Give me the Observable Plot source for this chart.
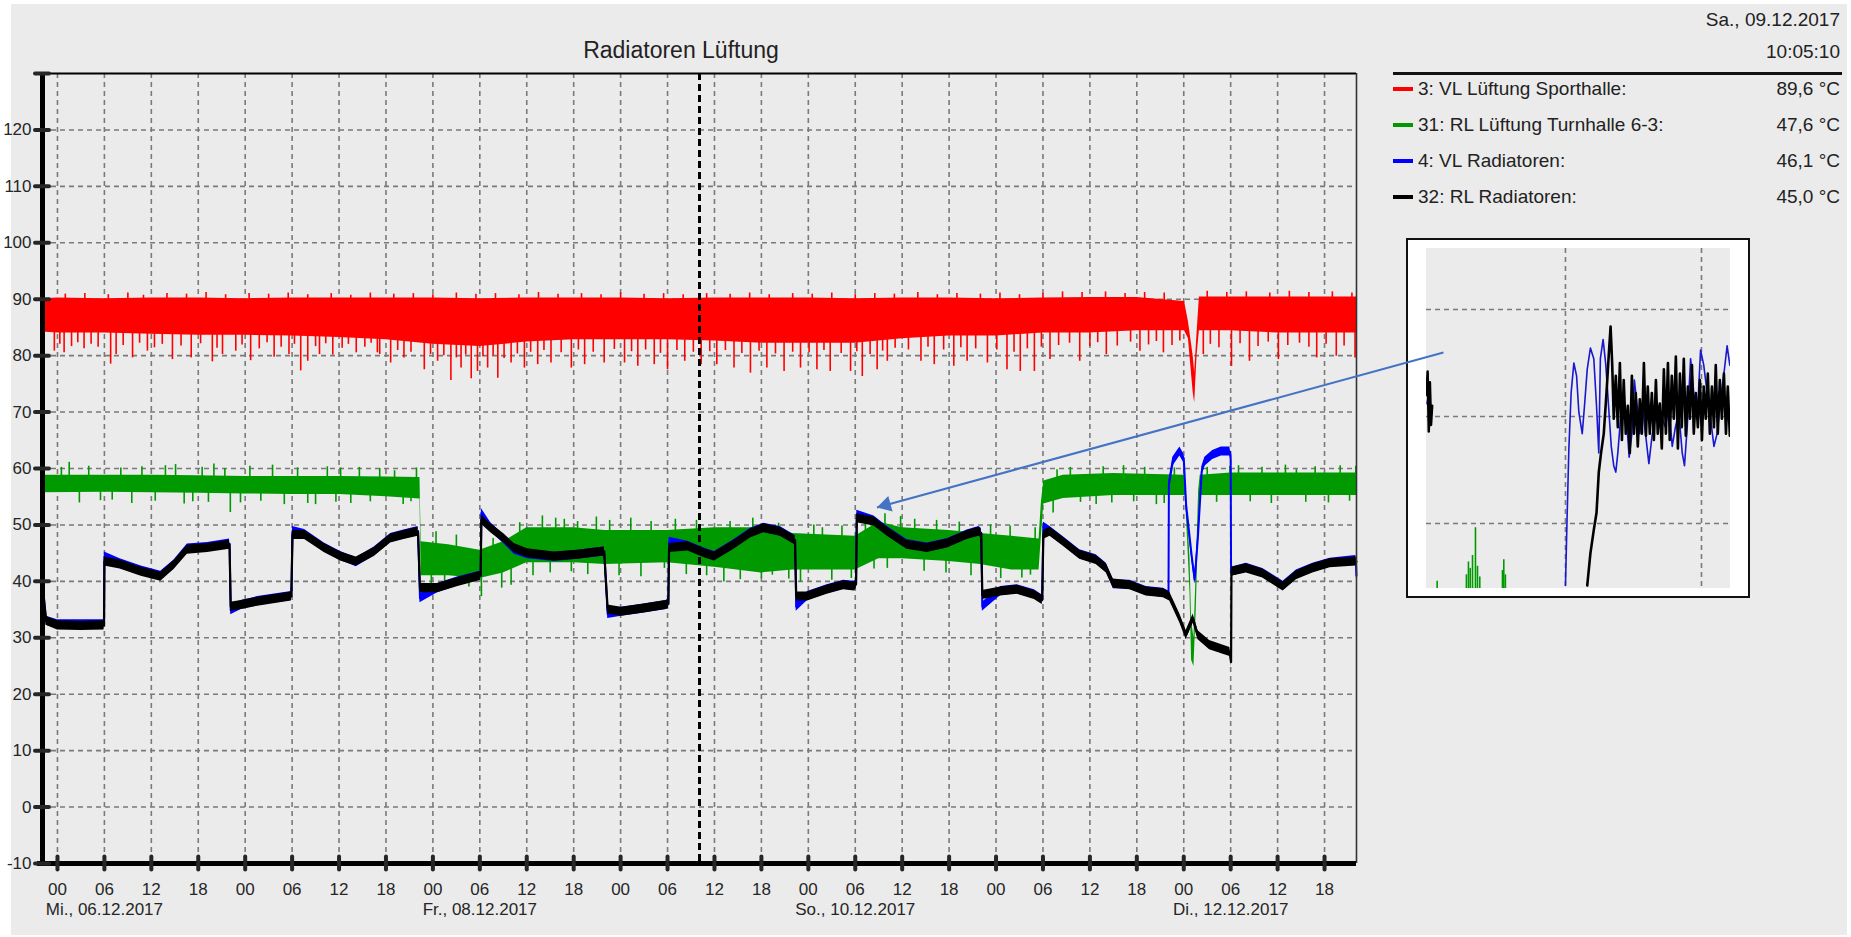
<!DOCTYPE html>
<html lang="de">
<head>
<meta charset="utf-8">
<script src="https://cdn.jsdelivr.net/npm/d3@7"></script>
<script src="https://cdn.jsdelivr.net/npm/@observablehq/plot@0.6"></script>
<style>
  html, body { margin:0; padding:0; background:#ffffff; }
  body { width:1851px; height:937px; overflow:hidden; position:relative; }
  #panel { position:absolute; left:11px; top:4px; width:1836px; height:931px; background:#ebebeb; overflow:visible; }
  #stage { position:absolute; left:-11px; top:-4px; width:1851px; height:937px;
           font-family:"Liberation Sans", Arial, sans-serif; color:#222; }
  .abs { position:absolute; white-space:nowrap; }
  #title { left:481px; top:37px; width:400px; text-align:center; font-size:23px; line-height:26px; }
  .hdr { right:11px; font-size:19px; line-height:20px; text-align:right; }
  #hdrLine { left:1393px; top:72px; width:449px; height:3px; background:#111; }
  .lgLabel { left:1418px; font-size:19px; line-height:20px; }
  .lgValue { right:11px; font-size:19px; line-height:20px; text-align:right; }
  .lgSwatch { left:1393px; width:20px; height:4px; }
  #insetBox { left:1406px; top:238px; width:344px; height:360px; border:2px solid #111; box-sizing:border-box; background:#fff; }
  #insetPlot { left:1426px; top:248px; width:304px; height:340px; }
  #chart { left:0; top:0; }
</style>
</head>
<body>
<div id="panel"><div id="stage">
  <div id="title" class="abs">Radiatoren Lüftung</div>
  <div id="hdrDate" class="abs hdr" style="top:10px"></div>
  <div id="hdrTime" class="abs hdr" style="top:42px"></div>
  <div id="hdrLine" class="abs"></div>
  <div id="legend"></div>
  <div id="insetBox" class="abs"></div>
  <div id="insetPlot" class="abs"></div>
  <div id="chart" class="abs"></div>
</div></div>
<script>
// ---------------- data (hours after Mi., 06.12.2017 00:00) ----------------
const seriesNames  = ["3: VL Lüftung Sporthalle:", "31: RL Lüftung Turnhalle 6-3:", "4: VL Radiatoren:", "32: RL Radiatoren:"];
const seriesValues = ["89,6 °C", "47,6 °C", "46,1 °C", "45,0 °C"];
const cursorDateText = "Sa., 09.12.2017";
const cursorTimeText = "10:05:10";
const title = "Radiatoren Lüftung";

const viewStartHour = -1.9139;   // Di., 05.12.2017 22:05:10
const viewEndHour   = 166.0861;  // Di., 12.12.2017 22:05:10
const cursorHour    = 82.0861;   // Sa., 09.12.2017 10:05:10

const tickHours = [0,6,12,18,24,30,36,42,48,54,60,66,72,78,84,90,96,102,108,114,120,126,132,138,144,150,156,162];
const dateLabelHours = [6, 54, 102, 150];
const dateLabels = ["Mi., 06.12.2017", "Fr., 08.12.2017", "So., 10.12.2017", "Di., 12.12.2017"];
const yLabelValues = [-10,0,10,20,30,40,50,60,70,80,90,100,110,120];
const yStubValues  = [-10,0,10,20,30,40,50,60,70,80,90,100,110,120,130];
const yGridValues  = [0,10,20,30,40,50,60,70,80,90,100,110,120];
const yDomain = [-10, 130];

// 3: VL Lüftung Sporthalle — dense core band [hour, low, high]
const redBand = [
  [-1.91,84.2,90.1],[0,84.0,90.2],[6,84.0,90.1],[12,83.8,90.2],[18,83.6,90.2],[24,83.6,90.1],
  [30,83.5,90.2],[36,83.2,90.2],[42,82.8,90.2],[48,82.0,90.2],[54,81.6,90.1],[60,82.4,90.2],
  [66,82.8,90.2],[72,82.8,90.2],[78,82.8,90.1],[84,82.6,90.2],[90,82.2,90.2],[96,82.2,90.2],
  [102,82.2,90.1],[108,83.0,90.2],[114,83.5,90.2],[120,83.5,90.1],[126,84.0,90.2],[132,84.0,90.3],
  [138,84.4,90.3],[144.1,84.4,89.6],[144.6,83.0,86.0],[145.2,73.5,80.0],[145.4,71.6,77.0],
  [145.7,80.0,84.0],[146.0,84.4,90.4],[150,84.4,90.4],[156,84.0,90.4],[162,84.0,90.4],[166.09,84.0,90.4]
];
// spikes out of the band [hour, value]
const redSpikes = [
  // deep dips
  [-0.4,80.8],[0.85,80.5],[6.8,78.5],[7.5,80.2],[9.6,79.6],[11.5,80.8],[14.7,79.3],[17.1,79.6],
  [19.8,78.9],[21.1,80.2],[22.8,80.8],[24.7,79.1],[27.7,79.7],[29.6,80.2],[31.1,77.3],[32.0,79.0],
  [33.5,80.2],[35.2,80.1],[38.2,80.5],[41.2,80.2],[40.9,80.5],[42.6,78.7],[44.3,79.6],[46.9,77.5],
  [48.6,79.0],[50.3,75.6],[51.6,77.8],[52.9,75.9],[53.7,77.2],[55.0,77.8],[56.3,76.0],[58.0,78.7],
  [59.7,77.8],[61.4,78.4],[63.1,78.7],[65.7,77.8],[67.4,78.4],[69.9,78.7],[72.5,78.7],[74.2,78.1],
  [76.3,78.4],[78.0,77.5],[80.2,79.0],[82.3,78.4],[84.3,78.4],[86.5,77.8],[88.6,76.9],[90.7,77.8],
  [92.9,77.2],[95.0,77.8],[97.1,77.5],[98.8,77.2],[101.4,77.2],[102.9,76.3],[104.8,77.5],[106.1,79.0],
  [110.4,79.0],[112.1,78.4],[114.6,78.1],[116.3,79.0],[118.9,78.7],[121.4,77.5],[123.1,77.2],
  [124.9,77.2],[126.9,79.3],[130.7,79.0],[134.1,80.2],[138.4,80.8],[141.4,80.5],[146.5,80.2],
  [150.1,78.1],[152.4,79.0],[156.1,79.3],[161.0,79.6],[163.5,79.9],[165.9,79.6],
  // shallower dips along the lower edge
  [0.3,82.0],[1.8,81.6],[2.6,82.3],[3.4,81.2],[4.3,82.0],[5.2,81.5],[8.4,81.8],[10.5,82.2],[12.4,81.4],
  [13.4,82.0],[15.8,81.7],[18.3,82.1],[20.4,81.3],[23.6,81.9],[25.8,81.2],[26.8,82.3],[28.6,81.5],
  [30.3,82.0],[33.0,81.6],[34.3,82.1],[36.4,81.3],[37.2,82.0],[39.3,81.5],[40.1,82.2],[43.5,80.9],
  [45.2,80.6],[47.7,80.2],[49.4,80.0],[51.0,79.6],[52.2,80.1],[54.4,79.8],[55.7,80.0],[57.1,79.5],
  [58.8,80.3],[60.5,80.6],[62.2,80.9],[64.4,80.5],[66.6,81.0],[68.5,80.6],[71.2,81.1],[73.4,80.7],
  [75.2,81.0],[77.1,80.4],[79.2,80.9],[81.3,80.6],[83.4,80.7],[85.4,80.9],[87.5,80.4],[89.7,80.8],
  [91.8,80.3],[94.0,80.6],[96.1,80.5],[98.0,80.9],[100.2,80.4],[102.2,80.7],[103.9,80.2],[105.5,80.8],
  [107.1,81.3],[108.8,81.0],[111.3,81.5],[113.3,81.0],[115.5,81.4],[117.4,81.2],[120.1,81.0],[122.3,80.6],
  [124.0,81.2],[125.8,81.5],[128.0,81.8],[129.4,82.2],[132.0,81.6],[133.0,82.3],[135.5,81.7],[137.2,82.4],
  [139.5,81.9],[140.5,82.5],[142.5,81.8],[143.5,82.6],[147.4,82.0],[148.5,81.4],[151.2,82.1],[153.5,81.6],
  [154.8,82.4],[157.3,81.8],[158.8,82.2],[160.0,81.5],[162.2,82.0],[164.5,81.7],
  // small peaks along the upper edge
  [1.0,90.9],[3.5,91.0],[6.5,90.8],[9.0,91.1],[11.0,90.7],[14.0,91.0],[16.5,90.9],[19.0,91.2],[21.5,90.8],
  [24.5,91.0],[27.0,90.9],[29.5,91.1],[32.0,90.8],[35.0,91.0],[37.5,90.7],[40.0,91.1],[43.0,90.9],
  [45.5,91.0],[48.0,90.8],[51.0,91.1],[53.5,90.9],[56.0,91.0],[59.0,90.8],[61.5,91.2],[64.0,90.9],
  [67.0,91.0],[69.5,90.8],[72.0,91.1],[75.0,90.9],[77.5,91.0],[80.0,90.8],[83.0,91.0],[86.0,90.9],
  [88.5,91.1],[91.0,90.8],[94.0,91.0],[96.5,90.9],[99.0,91.1],[102.0,90.8],[104.5,91.0],[107.0,90.9],
  [110.0,91.2],[112.5,90.8],[115.0,91.0],[118.0,90.9],[120.5,91.1],[123.0,90.8],[126.0,91.0],[128.5,91.3],
  [131.0,91.2],[134.0,91.3],[136.5,91.0],[139.0,91.2],[141.5,91.1],[147.0,91.4],[149.5,91.2],[152.0,91.3],
  [155.0,91.1],[157.5,91.4],[160.0,91.2],[163.0,91.3],[165.5,91.1]
];

// 31: RL Lüftung Turnhalle 6-3 — dense core band [hour, low, high]
const greenBand = [
  [-1.91,55.7,58.8],[6,55.8,58.8],[12,55.7,58.8],[18,55.6,58.7],[24,55.5,58.6],[30,55.4,58.6],
  [36,55.4,58.6],[42,55.0,58.5],[46.35,54.6,58.4],[46.5,41.0,47.0],[50,41.0,46.5],[54,40.5,45.5],
  [57,41.5,47.0],[60,43.3,49.5],[66,43.3,49.5],[70,43.0,49.0],[78,43.3,49.0],[84,42.5,49.5],
  [90,41.5,49.5],[94,42.0,48.5],[102,42.0,48.0],[105,44.0,50.5],[108,44.0,49.5],[114,43.5,49.0],
  [118,43.0,48.5],[122,42.0,48.0],[125.5,42.0,47.5],[125.8,48.0,54.0],[126.1,53.7,57.8],
  [128.6,54.7,58.8],[135,55.2,59.1],[144.2,55.2,58.8],[144.5,47.0,52.0],[144.8,38.0,44.0],
  [145.0,26.0,33.0],[145.3,24.9,30.0],[145.6,35.0,42.0],[145.9,50.0,56.0],[146.1,55.2,58.8],
  [150,55.2,59.2],[156,55.2,59.2],[162,55.2,59.2],[166.09,55.2,59.2]
];
// spikes out of the band [hour, value]
const greenSpikes = [
  [1.5,61.1],[8.1,60.1],[15.1,60.7],[20.0,60.8],[36.2,60.1],[7.0,54.4],[17.3,54.1],[22.1,52.2],
  [32.0,53.8],[33.0,53.6],[43.1,59.6],[45.2,54.1],[47.8,38.4],[54.2,37.3],[58.0,39.3],[63.7,51.2],
  [66.5,50.6],[65.7,41.7],[77.6,42.3],[85.2,39.9],[91.4,41.1],[95.0,39.9],[96.7,50.0],[107.8,51.5],
  [106.1,42.3],[124.4,41.1],[127.3,52.1],[132.8,53.6],[140.5,53.6],[149.9,60.4],[158.4,59.8],[166.0,60.4],
  [0.5,60.2],[2.8,53.9],[4.0,60.4],[5.5,54.3],[9.5,53.8],[10.8,60.3],[12.5,54.2],[13.8,60.5],[16.2,53.7],
  [18.5,60.2],[19.3,54.0],[21.4,60.0],[23.4,53.9],[24.6,60.4],[26.0,54.2],[27.5,60.6],[29.0,53.6],
  [30.7,60.1],[34.5,60.3],[35.6,54.0],[37.5,53.8],[38.6,60.2],[40.0,54.1],[41.2,60.0],[44.2,53.6],
  [45.9,60.1],
  [48.4,48.8],[49.5,39.6],[51.0,48.2],[52.6,39.0],[55.7,47.6],[56.8,38.8],[59.1,50.4],[60.8,41.0],
  [62.0,51.6],[63.0,41.5],[64.8,51.0],[67.8,41.2],[68.9,51.4],[70.6,50.8],[71.8,41.0],[73.3,51.2],
  [74.6,40.8],[75.9,50.6],[79.0,51.0],[80.4,41.2],[81.7,50.8],[83.0,41.0],[86.0,50.6],[87.3,40.3],
  [88.9,51.2],[90.0,40.5],[92.2,50.3],[93.5,40.4],[97.8,49.5],[99.0,40.2],[100.3,49.8],[101.5,40.5],
  [103.3,51.8],[104.4,42.2],[105.8,52.0],[109.6,51.0],[110.8,41.8],[112.4,50.8],[113.6,41.5],[115.3,50.5],
  [116.8,41.0],[119.3,50.0],[120.6,40.5],[121.8,49.8],[123.3,40.6],[125.0,49.5],
  [127.8,59.8],[129.5,60.2],[130.8,54.0],[133.7,60.3],[134.8,53.9],[136.3,60.5],[137.6,54.1],[139.0,60.2],
  [141.5,53.8],[142.8,60.1],[147.0,60.2],[148.2,54.0],[151.0,60.5],[152.5,54.1],[154.0,60.2],[155.2,53.8],
  [157.0,60.6],[159.6,54.0],[160.8,60.3],[162.5,53.9],[164.0,60.5],[165.2,54.2]
];

// 4: VL Radiatoren [hour, value]
const bluePts = [
  [-1.91,40],[-1.7,36.5],[-1.45,33],[0,32.4],[5.95,32.4],[6.0,44.4],[8,43.2],[10.7,41.9],[13.2,41],
  [14.9,43],[16.6,45.8],[19.2,46.1],[22,46.7],[22.15,34.9],[23.5,35.8],[25.6,36.5],[29.9,37.4],
  [30.05,48.9],[31.6,48.4],[34.1,46],[36.2,44.5],[38.2,43.4],[40.5,45.3],[42.6,47.7],[44.3,48.3],
  [46.1,48.9],[46.35,37.0],[48.6,38.8],[51.2,40],[53.7,40.9],[54.1,41],[54.2,52.1],[55.4,49.6],
  [57.1,47.4],[58.4,45.6],[60.1,44.8],[63.5,44.3],[66.5,44.7],[69.9,45.3],[70.35,34.2],[72.1,34.6],
  [75,35.2],[77.8,35.8],[78.1,36],[78.2,47],[80.6,46.3],[82.7,45.1],[84,44.5],[86.5,46.6],[88.6,48.6],
  [90.3,49.5],[92.4,48.9],[93.9,47.7],[94.3,47.3],[94.45,35.5],[95.9,37.4],[98.4,38.6],[100.5,39.4],
  [101.9,39.2],[102.1,39.5],[102.2,51.8],[104.4,50.8],[106.1,48.9],[108.6,46.6],[111.2,46],[113.8,46.8],
  [116.3,48.3],[117.8,48.9],[118.1,48.6],[118.25,35.5],[120.6,38.3],[122.7,38.6],[124.9,37.7],
  [125.9,36.8],[126.05,49.7],[126.9,48.9],[128.6,47.1],[130.7,44.8],[132.8,43.9],[134.1,42.4],
  [135,39.5],[137.1,39.4],[139.2,38.3],[141.4,38],[142.05,37.5],[142.1,57.1],[142.6,61.2],[143.5,63.0],
  [144,61.8],[144.3,53.6],[145,44.7],[145.4,40.3],[145.8,47.6],[146.3,59.5],[146.7,61.2],[147.7,62.4],
  [148.8,63.0],[149.9,63.0],[150.0,62],[150.05,41.7],[152,42.4],[154.1,41.5],[156.7,39.2],[158.4,41.2],
  [160.5,42.4],[162.7,43.3],[166.0,43.8],[166.08,41]
];
// 32: RL Radiatoren [hour, value]
const blackPts = [
  [-1.91,40],[-1.7,36.5],[-1.45,33],[0,32.2],[3,32.1],[5.95,32.2],[6.0,43.5],[8,43],[10.7,41.7],
  [13.2,40.8],[14.9,42.9],[16.6,45.6],[19.2,45.9],[22.0,46.5],[22.15,35.5],[23.5,35.8],[25.6,36.4],
  [29.9,37.3],[30.05,48.2],[31.6,48.2],[34.1,45.9],[36.2,44.4],[38.2,43.5],[40.5,45.2],[42.6,47.6],
  [44.3,48.2],[46.1,48.8],[46.35,38.8],[48.6,38.8],[51.2,39.9],[53.7,40.8],[54.1,41],[54.2,50.9],
  [55.4,49.4],[57.1,47.6],[58.4,45.9],[60.1,45.0],[63.5,44.4],[66.5,44.7],[69.9,45.3],[70.35,35],
  [72.1,34.6],[75.0,35.2],[77.8,35.8],[78.1,36],[78.2,45.9],[80.6,46.2],[82.7,45],[84,44.4],[86.5,46.5],
  [88.6,48.5],[90.3,49.4],[92.4,48.8],[93.9,47.6],[94.3,47.3],[94.45,37.3],[95.9,37.3],[98.4,38.5],
  [100.5,39.3],[101.9,39.1],[102.1,39.5],[102.2,51.2],[104.4,50.6],[106.1,48.8],[108.6,46.5],
  [111.2,45.9],[113.8,46.7],[116.3,48.2],[117.8,48.8],[118.1,48.5],[118.25,37.6],[120.6,38.2],
  [122.7,38.5],[124.9,37.6],[125.9,36.7],[126.05,48.2],[126.9,48.8],[128.6,47.0],[130.7,44.7],
  [132.8,43.8],[134.1,42.3],[135,39.6],[137.1,39.3],[139.2,38.2],[141.4,37.9],[142.2,37.3],[143.5,33.4],
  [144.3,30.5],[145.2,33.4],[145.8,30.5],[147.3,28.7],[149.9,27.5],[150.05,25.7],[150.1,41.7],[152,42.3],
  [154.1,41.4],[156.7,39.1],[158.4,41.1],[160.5,42.3],[162.7,43.2],[166.08,43.5]
];

// Arrow annotation [hour, value] start (inside the inset) -> tip
const arrowFrom = [177.2, 80.55];
const arrowTo   = [104.77, 53.1];

// Inset (detail view, minutes after So., 10.12.2017 06:00)
const insetXDomain = [-61.3, 72.8];
const insetYDomain = [41.96, 57.85];
const insetGridX = [0, 60];
const insetGridY = [45, 50, 55];
const insetBlackLeft = [[-61.3,51.0],[-60.8,52.1],[-60.3,49.3],[-59.8,51.6],[-59.3,49.6],[-58.8,50.5]];
const insetBlueLeft  = [[-61.0,50.6],[-60.4,51.0],[-59.9,50.3]];
const insetGreen = [[-56.6,42.3],[-43.7,42.6],[-42.8,43.2],[-42.0,42.9],[-41.0,43.5],[-39.7,44.8],
                    [-38.8,43.0],[-37.8,42.5],[-27.8,42.8],[-27.2,43.3],[-26.5,42.6]];
const insetBlue = [
  [0,42.1],[0.7,45.2],[1.5,48.5],[2.5,51.1],[3.7,52.5],[4.9,51.9],[5.9,50.2],[7.4,49.2],[8.4,50.5],
  [9.6,52.2],[11.0,53.2],[12.5,52.7],[13.7,50.5],[14.7,48.3],[15.4,52.7],[16.6,53.6],[17.8,52.4],
  [19.0,50.5],[20.2,48.6],[21.3,47.7],[22.2,47.4],[23.1,48.3],[24.3,49.9],[25.4,51.1],[26.9,49.9],
  [28.1,48.1],[29.3,49.2],[30.4,51.7],[31.6,50.5],[32.8,49.2],[34.0,50.5],[35.3,49.2],[36.8,47.8],
  [38.2,49.1],[39.7,49.9],[41.2,50.5],[42.7,49.9],[44.1,49.5],[45.6,50.5],[47.1,48.6],[48.5,49.5],
  [50.0,50.2],[51.5,48.3],[52.5,47.7],[53.7,49.5],[55.2,52.7],[56.6,51.1],[58.1,49.9],[59.6,53.1],
  [61.0,52.4],[62.5,51.1],[64.0,49.9],[65.5,48.6],[66.9,49.2],[68.4,50.8],[69.9,52.0],[71.3,53.3],[72.5,52.4]
];
const insetBlack = [
  [9.6,42.1],[11.0,43.6],[12.5,44.7],[13.7,45.5],[14.7,47.4],[15.7,48.3],[16.9,49.2],[18.1,51.1],
  [19.0,52.7],[19.9,54.2],[20.6,52.5],[21.3,49.9],[22.2,51.9],[23.1,49.5],[24.0,52.5],[24.9,48.9],
  [25.7,51.7],[26.6,49.2],[27.5,50.5],[28.4,48.3],[29.3,51.9],[30.2,49.2],[31.0,51.1],[31.9,48.6],
  [32.8,50.8],[33.7,49.2],[34.6,52.5],[35.5,49.1],[36.3,51.4],[37.2,49.2],[38.1,51.1],[39.0,48.9],
  [39.9,51.7],[40.7,49.2],[41.6,50.6],[42.5,48.5],[43.4,52.2],[44.3,49.2],[45.2,52.5],[46.0,48.9],
  [46.9,51.9],[47.8,49.9],[48.7,52.8],[49.6,48.5],[50.5,52.0],[51.3,49.5],[52.2,52.7],[53.1,49.1],
  [54.0,51.4],[54.9,49.9],[55.8,52.4],[56.6,49.2],[57.5,51.1],[58.4,49.5],[59.3,51.7],[60.2,48.9],
  [61.0,51.4],[61.9,49.9],[62.8,52.0],[63.7,49.2],[64.6,51.4],[65.5,49.5],[66.3,52.4],[67.2,49.2],
  [68.1,51.7],[69.0,49.9],[69.9,52.0],[70.8,49.2],[71.6,51.4],[72.5,49.1]
];

// ---------------- styles ----------------
const C_RED = "#ff0000", C_GREEN = "#009a00", C_BLUE = "#0000ff", C_BLACK = "#000000";
const seriesColors = [C_RED, C_GREEN, C_BLUE, C_BLACK];
const GRID = {stroke: "#7a7a7a", strokeOpacity: 1, strokeWidth: 1.6, strokeDasharray: "5,4"};
const NOISE = 0.8;

// ---------------- helpers ----------------
const BASE = Date.UTC(2017, 11, 6);
const toDate = h => new Date(BASE + h * 3600e3);
const bandRows = arr => arr.map(([h, lo, hi]) => ({t: toDate(h), lo, hi}));
const ptRows = arr => arr.map(([h, v]) => ({t: toDate(h), v}));
function bandMid(band, h) {
  const i = d3.bisector(d => d[0]).left(band, h);
  if (i <= 0) return (band[0][1] + band[0][2]) / 2;
  if (i >= band.length) { const b = band[band.length - 1]; return (b[1] + b[2]) / 2; }
  const a = band[i - 1], b = band[i], f = (h - a[0]) / (b[0] - a[0]);
  return (a[1] + f * (b[1] - a[1]) + a[2] + f * (b[2] - a[2])) / 2;
}
const spikeRows = (arr, band) => arr.map(([h, v]) => ({t: toDate(h), v, base: bandMid(band, h)}));

const xDomain = [toDate(viewStartHour), toDate(viewEndHour)];
const tickDates = tickHours.map(toDate);
const dateTicks = dateLabelHours.map(toDate);
const dateLabelMap = new Map(dateTicks.map((d, i) => [+d, dateLabels[i]]));
const hourFmt = d3.utcFormat("%H");

// ---------------- header + legend ----------------
document.getElementById("title").textContent = title;
document.getElementById("hdrDate").textContent = cursorDateText;
document.getElementById("hdrTime").textContent = cursorTimeText;
const legend = document.getElementById("legend");
seriesNames.forEach((name, i) => {
  const cy = 89 + i * 36;
  const sw = document.createElement("div");
  sw.className = "abs lgSwatch"; sw.style.top = (cy - 2) + "px"; sw.style.background = seriesColors[i];
  const lb = document.createElement("div");
  lb.className = "abs lgLabel"; lb.style.top = (cy - 10) + "px"; lb.textContent = name;
  const vl = document.createElement("div");
  vl.className = "abs lgValue"; vl.style.top = (cy - 10) + "px"; vl.textContent = seriesValues[i];
  legend.append(sw, lb, vl);
});

// ---------------- main chart ----------------
const arrowRow = [{x1: toDate(arrowFrom[0]), y1: arrowFrom[1], x2: toDate(arrowTo[0]), y2: arrowTo[1]}];
const chart = Plot.plot({
  width: 1851, height: 937,
  marginLeft: 42, marginTop: 73, marginRight: 495, marginBottom: 74,
  style: {background: "transparent", overflow: "visible", fontFamily: "'Liberation Sans', Arial, sans-serif", fontSize: "17px", color: "#262626"},
  x: {type: "utc", domain: xDomain},
  y: {domain: yDomain},
  marks: [
    Plot.gridY(yGridValues, GRID),
    Plot.gridX(tickDates, GRID),
    // red
    Plot.areaY(bandRows(redBand), {x: "t", y1: "lo", y2: "hi", fill: C_RED}),
    Plot.ruleX(spikeRows(redSpikes, redBand), {x: "t", y1: "v", y2: "base", stroke: C_RED, strokeWidth: 1.6}),
    // green
    Plot.areaY(bandRows(greenBand), {x: "t", y1: "lo", y2: "hi", fill: C_GREEN}),
    Plot.ruleX(spikeRows(greenSpikes, greenBand), {x: "t", y1: "v", y2: "base", stroke: C_GREEN, strokeWidth: 1.6}),
    // blue
    Plot.areaY(ptRows(bluePts), {x: "t", y1: d => d.v - NOISE, y2: d => d.v + NOISE, fill: C_BLUE}),
    Plot.line(ptRows(bluePts), {x: "t", y: "v", stroke: C_BLUE, strokeWidth: 2}),
    // black
    Plot.areaY(ptRows(blackPts), {x: "t", y1: d => d.v - NOISE, y2: d => d.v + NOISE, fill: C_BLACK}),
    Plot.line(ptRows(blackPts), {x: "t", y: "v", stroke: C_BLACK, strokeWidth: 2.2}),
    // cursor
    Plot.ruleX([toDate(cursorHour)], {stroke: "#000", strokeWidth: 3, strokeDasharray: "7,4"}),
    // frame
    Plot.ruleY([yDomain[1]], {stroke: "#000", strokeWidth: 2}),
    Plot.ruleX([xDomain[1]], {stroke: "#333", strokeWidth: 1.6}),
    Plot.ruleY([yDomain[0]], {stroke: "#000", strokeWidth: 5, insetLeft: -5}),
    Plot.ruleX([xDomain[0]], {stroke: "#000", strokeWidth: 5, insetBottom: -2}),
    // tick stubs
    Plot.axisX(tickDates, {tickSize: 13, dy: -6.5, tickFormat: () => "", strokeWidth: 4, strokeLinecap: "round", label: null}),
    Plot.axisY(yStubValues, {tickSize: 14, dx: 7, tickFormat: () => "", strokeWidth: 4, strokeLinecap: "round", label: null}),
    // tick labels
    Plot.axisX(tickDates, {tickSize: 0, tickPadding: 19, tickFormat: hourFmt, fontSize: 17, label: null}),
    Plot.axisX(dateTicks, {tickSize: 0, tickPadding: 39, tickFormat: d => dateLabelMap.get(+d), fontSize: 17, label: null}),
    Plot.axisY(yLabelValues, {tickSize: 0, tickPadding: 11, tickFormat: d => String(d), fontSize: 17, label: null}),
    // annotation arrow
    Plot.link(arrowRow, {x1: "x1", y1: "y1", x2: "x2", y2: "y2", stroke: "#4472c4", strokeWidth: 2}),
    Plot.dot(arrowRow, {x: "x2", y: "y2", symbol: "triangle", r: 6, fill: "#4472c4", stroke: "none", rotate: 254.7, dx: 9, dy: -2.5})
  ]
});
document.getElementById("chart").append(chart);

// ---------------- inset ----------------
const mRows = arr => arr.map(([m, v]) => ({m, v}));
const inset = Plot.plot({
  width: 304, height: 340, margin: 0,
  style: {background: "#ebebeb", overflow: "hidden"},
  x: {domain: insetXDomain, axis: null},
  y: {domain: insetYDomain, axis: null},
  marks: [
    Plot.gridY(insetGridY, GRID),
    Plot.gridX(insetGridX, GRID),
    Plot.ruleX(mRows(insetGreen), {x: "m", y1: insetYDomain[0], y2: "v", stroke: C_GREEN, strokeWidth: 1.6}),
    Plot.line(mRows(insetBlueLeft), {x: "m", y: "v", stroke: C_BLUE, strokeWidth: 2}),
    Plot.line(mRows(insetBlackLeft), {x: "m", y: "v", stroke: C_BLACK, strokeWidth: 2.5}),
    Plot.line(mRows(insetBlue), {x: "m", y: "v", stroke: "#1818d0", strokeWidth: 1.6, clip: true}),
    Plot.line(mRows(insetBlack), {x: "m", y: "v", stroke: C_BLACK, strokeWidth: 2.6, clip: true})
  ]
});
document.getElementById("insetPlot").append(inset);
</script>
</body>
</html>
